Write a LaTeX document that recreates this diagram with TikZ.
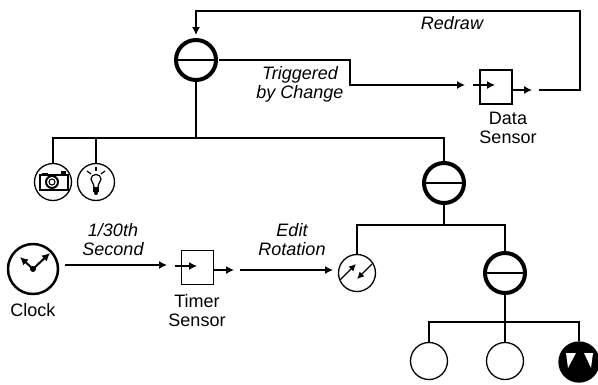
\documentclass[tikz,border=0pt]{standalone}
\usepackage{fontspec}
\setmainfont{Liberation Sans}
\usetikzlibrary{arrows.meta}
\tikzset{
    wire/.style={line width=1.3pt, line join=miter},
    arrow/.style={-{Latex[length=8pt,width=8pt]}, line width=1.3pt},
    handarrow/.style={-{Latex[length=8pt,width=8pt]}, line width=2pt},
    sepnode/.style={circle, draw, line width=4pt, minimum size=40pt, inner sep=0pt},
    iconnode/.style={circle, draw, line width=1.3pt, minimum size=37pt, inner sep=0pt},
    sensorbox/.style={rectangle, draw, line width=1.3pt, minimum width=32pt, minimum height=34pt, inner sep=0pt},
    labeltext/.style={font=\fontsize{18}{19}\selectfont, align=center, inner sep=0pt},
    edgetext/.style={labeltext, font=\fontsize{18}{19}\selectfont\itshape},
}
\begin{document}
\begin{tikzpicture}[x=1pt, y=-1pt]
    \path[fill=white, use as bounding box] (0,0) rectangle (598,384);

    % --- Nodi del grafo ---
    \node[sepnode] (sepTop) at (196,60) {};
    \node[sepnode] (sepMid) at (444,183) {};
    \node[sepnode] (sepLow) at (505,273) {};
    \draw[line width=1.3pt] (sepTop.west) -- (sepTop.east);
    \draw[line width=1.3pt] (sepMid.west) -- (sepMid.east);
    \draw[line width=1.3pt] (sepLow.west) -- (sepLow.east);

    \node[iconnode] (camera) at (53,182) {};
    \node[iconnode] (bulb) at (96,182) {};
    \node[iconnode] (rotation) at (357,273) {};
    \node[iconnode] (shapeA) at (429,361) {};
    \node[iconnode] (shapeB) at (505,361) {};
    \node[iconnode, fill=black, minimum size=40pt] (cone) at (579,362) {};

    % Rami
    \coordinate (busTop) at (196,138);
    \coordinate (busMid) at (444,225);
    \coordinate (busLow) at (505,322);
    \draw[wire] (sepTop) -- (busTop);
    \draw[wire] (camera.north) |- (busTop) -| (sepMid.north);
    \draw[wire] (bulb.north) -- (bulb.north |- busTop);
    \draw[wire] (sepMid) -- (busMid);
    \draw[wire] (rotation.north) |- (busMid) -| (sepLow.north);
    \draw[wire] (sepLow) -- (busLow);
    \draw[wire] (shapeA.north) |- (busLow) -| (cone.north);
    \draw[wire] (shapeB.north) -- (busLow);

    % --- Icone ---
    \begin{scope}[shift={(camera.center)}]
        \draw[line width=2pt] (-13,-7) rectangle (15,8);
        \draw[line width=2pt] (-1,0) circle (6);
        \draw[line width=1.1pt] (-1,0) circle (3);
        \fill (8,-11) rectangle (13,-7);
        \fill (-11,-9) rectangle (-5,-7);
    \end{scope}

    \begin{scope}[shift={(bulb.center)}]
        \draw[line width=1.2pt] (-2,5) .. controls (-2,1) and (-5,0) .. (-5,-3) .. controls (-5,-9) and (5,-9) .. (5,-3) .. controls (5,0) and (2,1) .. (2,5);
        \fill (-3,5) rectangle (3,10);
        \fill (0,11) circle (2);
        \draw[line width=1.2pt] (0,-15) -- (0,-11);
        \draw[line width=1.2pt] (-9,-11) -- (-5,-8);
        \draw[line width=1.2pt] (9,-11) -- (5,-8);
    \end{scope}

    \begin{scope}[shift={(rotation.center)}]
        \draw[-{Latex[length=7pt,width=7pt]}, line width=1.3pt] (-17,7) -- (-1,-9);
        \draw[-{Latex[length=7pt,width=7pt]}, line width=1.3pt] (15,-9) -- (0,6);
    \end{scope}

    \begin{scope}[shift={(cone.center)}]
        \fill[white] (-13,-9) -- (-3,-9) -- (-11,6) -- cycle;
        \fill[white] (5,-9) -- (14,-9) -- (12,6) -- cycle;
    \end{scope}

    % --- Orologio ---
    \node[circle, draw, line width=2.5pt, minimum size=50pt, inner sep=0pt] (clock) at (33,269) {};
    \node[labeltext] (clockLabel) at (33,310) {Clock};
    \fill (clock.center) circle (3);
    \draw[handarrow] (clock.center) -- (20,257);
    \draw[handarrow] (clock.center) -- (50,253);

    % --- Sensori ---
    \node[sensorbox] (timer) at (197.5,267.5) {};
    \node[labeltext] (timerLabel) at (197,310.5) {Timer\\Sensor};
    \node[sensorbox] (data) at (496,87) {};
    \node[labeltext] (dataLabel) at (508,127.5) {Data\\Sensor};

    \coordinate (timerIn) at (175,266);
    \coordinate (timerDot) at (197,266);
    \coordinate (timerOut) at (234,270);
    \coordinate (dataIn) at (473,85);
    \coordinate (dataDot) at (495,85);
    \coordinate (dataOut) at (532,90);
    \draw[arrow] (timerIn) -- (timerDot);
    \draw[arrow] (timer.east |- timerOut) -- (timerOut);
    \draw[arrow] (dataIn) -- (dataDot);
    \draw[arrow] (data.east |- dataOut) -- (dataOut);

    % --- Connessioni ---
    \coordinate (clockOut) at (65,265);
    \coordinate (timerTip) at (167,265);
    \draw[arrow] (clockOut) -- (timerTip);
    \node[edgetext] (secondLabel) at (113,239.5) {1/30th\\Second};

    \coordinate (editStart) at (240,270);
    \coordinate (editTip) at (333,270);
    \draw[arrow] (editStart) -- (editTip);
    \node[edgetext] (editLabel) at (292,240) {Edit\\Rotation};

    \coordinate (trigStart) at (219,60);
    \coordinate (trigCorner) at (350,60);
    \coordinate (trigTip) at (465,85);
    \draw[arrow] (trigStart) -- (trigCorner) |- (trigTip);
    \node[edgetext] (trigLabel) at (300,84.5) {Triggered\\by Change};

    \coordinate (drawStart) at (539,90);
    \coordinate (drawRight) at (580,11);
    \coordinate (drawTip) at (196,35);
    \draw[arrow] (drawStart) -| (drawRight) -| (drawTip);
    \node[edgetext] (drawLabel) at (452,23) {Redraw};
\end{tikzpicture}
\end{document}
